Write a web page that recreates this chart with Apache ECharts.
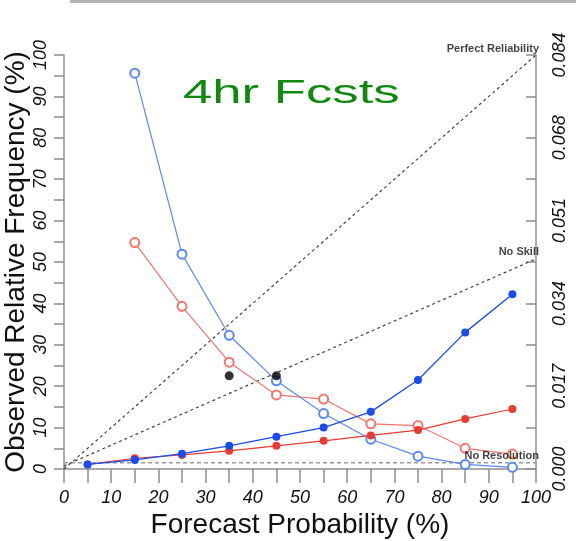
<!DOCTYPE html>
<html>
<head>
<meta charset="utf-8">
<script src="https://cdn.jsdelivr.net/npm/echarts@6/dist/echarts.min.js"></script>
<style>
  html, body { margin: 0; padding: 0; background: #fff; }
  #chart { width: 576px; height: 541px; }
</style>
</head>
<body>
<div id="chart"></div>
<script>
// Forecast probability bins (bin centres, %)
const probBins = [5, 15, 25, 35, 45, 55, 65, 75, 85, 95];

// Observed relative frequency per bin (%)
const obsFreqBlue = [1.1, 2.2, 3.7, 5.6, 7.8, 10.0, 13.8, 21.5, 33.0, 42.2];
const obsFreqRed  = [1.1, 2.6, 3.4, 4.4, 5.6, 6.8, 8.1, 9.4, 12.1, 14.5];

// Share of forecasts falling in each bin (%), open circles
const fcstShareBlue = [null, 95.6, 51.9, 32.3, 21.3, 13.4, 7.2, 3.1, 1.1, 0.4];
const fcstShareRed  = [null, 54.7, 39.3, 25.8, 17.9, 16.9, 10.9, 10.5, 5.0, 3.6];

// Extra observed points
const extraX = [35, 45];
const extraY = [22.5, 22.5];

// Climatological frequency (%) used for reference lines
const climatology = 1.5;

// Axis tick labels
const xTickLabels = ['0', '10', '20', '30', '40', '50', '60', '70', '80', '90', '100'];
const yTickLabels = ['0', '10', '20', '30', '40', '50', '60', '70', '80', '90', '100'];
const rightTickLabels = ['0.000', '0.017', '0.034', '0.051', '0.068', '0.084'];

// Reference line names
const refNames = ['Perfect Reliability', 'No Skill', 'No Resolution'];

const pairs = (xs, ys) => xs.map((x, i) => [x, ys[i]]);

const chart = echarts.init(document.getElementById('chart'), null, { renderer: 'canvas' });

const axisGrey = '#8f8f8f';
const tickFont = { fontFamily: 'Liberation Sans', fontSize: 18, fontStyle: 'italic', color: '#111' };

const refLines = [
  [[0, 0], [100, 100]],
  [[0, climatology / 2], [100, (100 + climatology) / 2]],
  [[0, climatology], [100, climatology]]
];

const noteLabel = {
  show: true,
  position: 'top',
  align: 'right',
  distance: 1,
  offset: [3, 0],
  fontFamily: 'Liberation Sans',
  fontSize: 11,
  fontWeight: 'bold',
  color: '#111'
};

const option = {
  animation: false,
  backgroundColor: '#fff',
  grid: { left: 64, right: 40, top: 55, bottom: 72, containLabel: false, outerBoundsMode: 'none' },
  xAxis: {
    type: 'value',
    min: 0, max: 100, interval: 5,
    name: 'Forecast Probability (%)',
    nameLocation: 'middle',
    nameGap: 42,
    nameMoveOverlap: false,
    nameTextStyle: { fontFamily: 'Liberation Sans', fontSize: 28, color: '#111' },
    axisLine: { show: true, lineStyle: { color: axisGrey, width: 1.5 } },
    axisTick: { show: true, length: 14, lineStyle: { color: axisGrey, width: 1.5 } },
    axisLabel: Object.assign({
      margin: 20,
      showMinLabel: true, showMaxLabel: true,
      formatter: v => (v % 10 === 0 ? xTickLabels[v / 10] : '')
    }, tickFont),
    splitLine: { show: false }
  },
  yAxis: [
    {
      type: 'value',
      position: 'left',
      min: 0, max: 100, interval: 5,
      name: 'Observed Relative Frequency (%)',
      nameLocation: 'middle',
      nameRotate: 90,
      nameGap: 34,
      nameMoveOverlap: false,
      nameTextStyle: { fontFamily: 'Liberation Sans', fontSize: 28, color: '#111' },
      axisLine: { show: true, lineStyle: { color: axisGrey, width: 1.5 } },
      axisTick: { show: true, length: 10, lineStyle: { color: axisGrey, width: 1.5 } },
      axisLabel: Object.assign({
        rotate: 90,
        margin: 14,
        showMinLabel: true, showMaxLabel: true,
        formatter: v => (v % 10 === 0 ? yTickLabels[v / 10] : '')
      }, tickFont),
      splitLine: { show: false }
    },
    {
      type: 'value',
      position: 'right',
      min: 0, max: 100, interval: 10,
      axisLine: { show: true, lineStyle: { color: axisGrey, width: 1.5 } },
      axisTick: { show: true, inside: true, length: 10, lineStyle: { color: axisGrey, width: 1.5 } },
      axisLabel: Object.assign({
        rotate: 90,
        margin: 15,
        showMinLabel: true, showMaxLabel: true,
        formatter: v => (v % 20 === 0 ? rightTickLabels[v / 20] : '')
      }, tickFont),
      splitLine: { show: false }
    }
  ],
  graphic: [
    {
      type: 'rect',
      left: 70, top: 0,
      shape: { width: 506, height: 3 },
      style: { fill: '#b4b4b4' }
    },
    {
      type: 'text',
      x: 183, y: 94,
      scaleX: 1.55, scaleY: 1,
      style: {
        text: '4hr Fcsts',
        font: '34px "Liberation Sans"',
        fill: '#0f8a0f',
        textVerticalAlign: 'middle'
      }
    }
  ],
  series: [
    {
      name: refNames[2],
      type: 'line',
      data: refLines[2],
      showSymbol: false,
      lineStyle: { color: '#9a9a9a', width: 1.5, type: [4, 3] },
      silent: true, z: 1
    },
    {
      name: refNames[0],
      type: 'line',
      data: refLines[0],
      showSymbol: false,
      lineStyle: { color: '#444', width: 1.2, type: [3, 3] },
      silent: true, z: 1
    },
    {
      name: refNames[1],
      type: 'line',
      data: refLines[1],
      showSymbol: false,
      lineStyle: { color: '#444', width: 1.2, type: [3, 3] },
      silent: true, z: 1
    },
    {
      name: 'notes',
      type: 'scatter',
      symbolSize: 0,
      data: refLines.map((l, i) => ({
        value: l[1],
        label: Object.assign({ formatter: refNames[i] }, noteLabel)
      })),
      silent: true, z: 6
    },
    {
      name: 'fcstRed',
      type: 'line',
      data: pairs(probBins, fcstShareRed),
      symbol: 'emptyCircle', symbolSize: 9,
      lineStyle: { color: '#f2766c', width: 1.2 },
      itemStyle: { color: '#f2766c', borderWidth: 1.3 },
      z: 2
    },
    {
      name: 'fcstBlue',
      type: 'line',
      data: pairs(probBins, fcstShareBlue),
      symbol: 'emptyCircle', symbolSize: 9,
      lineStyle: { color: '#5a8af6', width: 1.2 },
      itemStyle: { color: '#5a8af6', borderWidth: 1.3 },
      z: 3
    },
    {
      name: 'obsRed',
      type: 'line',
      data: pairs(probBins, obsFreqRed),
      symbol: 'circle', symbolSize: 8,
      lineStyle: { color: '#ea3b32', width: 1.2 },
      itemStyle: { color: '#ea3b32' },
      z: 4
    },
    {
      name: 'obsBlue',
      type: 'line',
      data: pairs(probBins, obsFreqBlue),
      symbol: 'circle', symbolSize: 8,
      lineStyle: { color: '#1a4cf2', width: 1.3 },
      itemStyle: { color: '#1a4cf2' },
      z: 5
    },
    {
      name: 'extra',
      type: 'scatter',
      data: pairs(extraX, extraY),
      symbol: 'circle', symbolSize: 9,
      itemStyle: { color: '#000' },
      z: 6
    }
  ]
};

chart.setOption(option);
</script>
</body>
</html>
